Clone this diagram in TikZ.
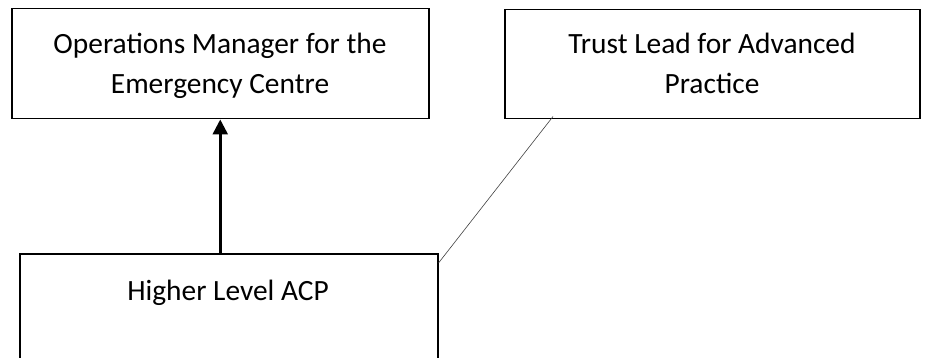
\documentclass[tikz,border=0pt]{standalone}
\usepackage{fontspec}
\setmainfont{Carlito}
\usetikzlibrary{arrows.meta,calc}
\begin{document}
\begin{tikzpicture}[x=1pt,y=-1pt,
  box/.style={draw=black,line width=1.5pt,rectangle,inner sep=0pt,anchor=north west},
  lbl/.style={font=\fontsize{29.4}{40}\selectfont,align=center,inner sep=0pt},
  arr/.style={line width=2.6pt,-{Triangle[length=15pt,width=15pt]}},
  thinline/.style={line width=0.6pt,draw=black!75}]
\useasboundingbox (0,0) rectangle (928,358);
\node[box,minimum width=417pt,minimum height=110pt] (ops) at (11,8) {};
\node[box,minimum width=415pt,minimum height=109pt] (lead) at (504,9) {};
\node[box,minimum width=418pt,minimum height=140pt] (acp) at (19,253) {};
\node[lbl,anchor=base] (opsT) at (220,94) {Operations Manager for the\\Emergency Centre};
\node[lbl,anchor=base] (leadT) at (712,94) {Trust Lead for Advanced\\Practice};
\node[lbl,anchor=base] (acpT) at (228,300) {Higher Level ACP};
\draw[arr] (ops.south |- acp.north) -- (ops.south);
\draw[thinline] ($(acp.north east)+(0,10)$) -- ($(lead.south west)+(49,-3)$);
\end{tikzpicture}
\end{document}
